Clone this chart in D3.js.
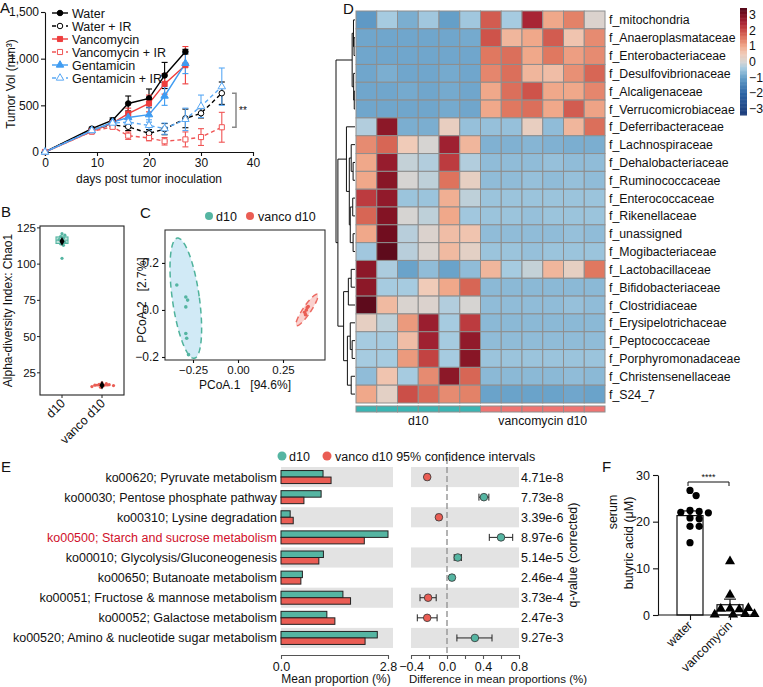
<!DOCTYPE html>
<html><head><meta charset="utf-8">
<script src="https://cdn.jsdelivr.net/npm/d3@7"></script>
<style>
body{margin:0;background:#fff}
text{font-family:"Liberation Sans",Arial,Helvetica,sans-serif;fill:#111}
</style>
</head><body>
<svg id="c" width="763" height="687" xmlns="http://www.w3.org/2000/svg"></svg>
<script>
// ================= DATA =================
// Panel A: tumor growth
const daysShort = [0, 9, 13, 16, 20, 23, 27];
const daysLong = [0, 9, 13, 16, 20, 23, 27, 30, 34];
const waterMean = [0, 250, 340, 520, 575, 820, 1075];
const waterErr = [0, 15, 25, 80, 100, 140, 25];
const waterIRMean = [0, 240, 290, 270, 200, 245, 360, 415, 630];
const waterIRErr = [0, 15, 20, 40, 40, 60, 100, 50, 120];
const vancoMean = [0, 220, 310, 410, 520, 730, 930];
const vancoErr = [0, 15, 20, 60, 90, 110, 200];
const vancoIRMean = [0, 220, 270, 175, 150, 115, 135, 160, 265];
const vancoIRErr = [0, 15, 20, 40, 30, 40, 80, 90, 160];
const gentaMean = [0, 230, 320, 370, 400, 600, 950];
const gentaErr = [0, 15, 20, 40, 80, 100, 110];
const gentaIRMean = [0, 230, 310, 320, 285, 250, 350, 490, 700];
const gentaIRErr = [0, 15, 20, 40, 60, 60, 120, 120, 200];
const seriesNames = ["Water", "Water + IR", "Vancomycin", "Vancomycin + IR", "Gentamicin", "Gentamicin + IR"];
const tumorXTicks = [0, 10, 20, 30, 40];
const tumorYTicks = [0, 500, 1000, 1500];

// Panel B: alpha diversity
const groupsB = ["d10", "vanco d10"];
const chaoD10 = [121, 120, 119, 118, 117, 116, 115, 114, 113, 104];
const chaoVanco = [18, 17.5, 17, 16.8, 16.5, 16.2, 16, 15.5, 15];
const chaoTicks = [25, 50, 75, 100, 125];

// Panel C: PCoA
const pcoaD10X = [-0.34, -0.29, -0.28, -0.29, -0.29, -0.285, -0.275];
const pcoaD10Y = [0.106, 0.055, 0.042, 0.013, -0.10, -0.12, -0.19];
const pcoaVancoX = [0.37, 0.38, 0.385, 0.39, 0.375];
const pcoaVancoY = [-0.01, 0.0, 0.01, 0.015, -0.02];
const pcoaXTicks = [-0.25, 0, 0.25];
const pcoaYTicks = [-0.2, 0, 0.2];

// Panel D: heatmap
const families = ["f_mitochondria","f_Anaeroplasmataceae","f_Enterobacteriaceae","f_Desulfovibrionaceae","f_Alcaligenaceae","f_Verrucomicrobiaceae","f_Deferribacteraceae","f_Lachnospiraceae","f_Dehalobacteriaceae","f_Ruminococcaceae","f_Enterococcaceae","f_Rikenellaceae","f_unassigned","f_Mogibacteriaceae","f_Lactobacillaceae","f_Bifidobacteriaceae","f_Clostridiaceae","f_Erysipelotrichaceae","f_Peptococcaceae","f_Porphyromonadaceae","f_Christensenellaceae","f_S24_7"];
const sampleGroups = ["d10","d10","d10","d10","d10","d10","vancomycin d10","vancomycin d10","vancomycin d10","vancomycin d10","vancomycin d10","vancomycin d10"];
const heatValues = [
 [-1.1,-0.4,-0.8,-0.45,-1.0,-0.45, 1.8,-0.4,2.5,1.0,1.4,0.1],
 [-0.9,-0.9,-0.9,-0.9,-0.9,-0.85, 1.9,0.8,1.0,1.8,0.6,1.3],
 [-0.9,-0.9,-0.9,-0.9,-0.9,-0.9, 1.5,1.6,1.0,1.5,1.1,1.3],
 [-0.9,-0.8,-0.9,-0.9,-0.85,-0.9, 1.35,1.6,0.8,0.7,1.25,1.7],
 [-0.9,-0.9,-0.85,-0.9,-0.85,-0.9, 1.0,1.6,1.9,1.0,1.0,1.35],
 [-0.9,-0.9,-0.9,-0.9,-0.85,-0.9, 1.0,1.5,1.6,1.0,1.8,1.05],
 [-0.3,2.8,-0.8,-0.8,0.35,-0.55,-0.55,-0.55,0.35,-0.6,0.8,1.6],
 [1.3,1.7,0.5,0.0,2.6,0.8,-0.75,-0.75,-0.7,-0.75,-0.8,-0.8],
 [1.0,2.7,-0.15,-0.3,2.2,-0.3,-0.6,-0.6,-0.6,-0.55,-0.6,-0.6],
 [1.0,2.85,0.0,-0.2,1.55,0.3,-0.6,-0.6,-0.55,-0.6,-0.55,-0.6],
 [2.2,2.75,-0.5,-0.5,0.9,-0.2,-0.5,-0.5,-0.5,-0.5,-0.5,-0.5],
 [1.7,2.9,0.0,-0.2,1.0,-0.45,-0.5,-0.5,-0.55,-0.5,-0.5,-0.5],
 [1.0,3.1,-0.25,0.1,0.7,0.6,-0.6,-0.6,-0.6,-0.6,-0.55,-0.6],
 [-0.45,3.3,-0.25,0.05,0.75,0.25,-0.5,-0.5,-0.55,-0.5,-0.5,-0.5],
 [2.8,-0.35,-0.95,-0.6,-0.95,-0.6,0.8,-0.4,-0.15,0.8,0.3,1.5],
 [2.8,-0.4,-0.4,0.5,1.0,1.7,-0.65,-0.65,-0.65,-0.65,-0.65,-0.65],
 [3.3,0.75,0.05,0.1,-0.3,0.0,-0.6,-0.6,-0.6,-0.6,-0.55,-0.6],
 [0.3,-0.2,1.15,2.65,-0.4,2.2,-0.65,-0.65,-0.65,-0.65,-0.65,-0.65],
 [-0.4,-0.4,0.7,2.6,-0.4,2.75,-0.6,-0.6,-0.6,-0.6,-0.6,-0.6],
 [-0.4,-0.4,1.15,2.1,-0.4,2.85,-0.5,-0.5,-0.5,-0.5,-0.5,-0.5],
 [-0.6,0.6,-0.4,1.3,2.8,1.7,-0.65,-0.65,-0.65,-0.65,-0.6,-0.65],
 [1.0,0.25,1.95,1.65,1.3,1.4,-0.95,-0.95,-0.95,-0.95,-0.9,-0.95]
];
// row dendrogram: [height, left, right], leaves = row index
const rowTree = [1.0,
  [0.15, [0.08, 0, [0.05, 1, 2]], [0.07, 3, [0.04, 4, 5]]],
  [0.9,
    [0.45, 6, [0.3, [0.2, 7, [0.1, 8, 9]], [0.25, [0.12, 10, 11], [0.1, 12, 13]]]],
    [0.6, [0.35, [0.2, 14, 15], 16], [0.4, [0.25, 17, [0.15, 18, 19]], [0.2, 20, 21]]]
  ]
];
const colorbarTicks = [3, 2, 1, 0, -1, -2, -3];

// Panel E: KEGG pathways
const koLabels = ["ko00620; Pyruvate metabolism","ko00030; Pentose phosphate pathway","ko00310; Lysine degradation","ko00500; Starch and sucrose metabolism","ko00010; Glycolysis/Gluconeogenesis","ko00650; Butanoate metabolism","ko00051; Fructose & mannose metabolism","ko00052; Galactose metabolism","ko00520; Amino & nucleotide sugar metabolism"];
const meanD10 = [1.10, 1.05, 0.24, 2.80, 1.11, 0.56, 1.62, 1.20, 2.52];
const meanVanco = [1.31, 0.60, 0.32, 2.18, 0.99, 0.52, 1.82, 1.41, 2.20];
const diffMean = [-0.22, 0.41, -0.09, 0.60, 0.12, 0.055, -0.21, -0.22, 0.31];
const diffLow = [-0.24, 0.355, -0.11, 0.47, 0.08, 0.035, -0.30, -0.33, 0.11];
const diffHigh = [-0.20, 0.465, -0.07, 0.73, 0.16, 0.075, -0.12, -0.11, 0.50];
const qValues = ["4.71e-8","7.73e-8","3.39e-6","8.97e-6","5.14e-5","2.46e-4","3.73e-4","2.47e-3","9.27e-3"];
const propTicks = [0, 2.8];
const diffTicks = [-0.4, -0.2, 0, 0.2, 0.4, 0.6, 0.8];

// Panel F: butyric acid
const groupsF = ["water", "vancomycin"];
const butyrateWater = [26.7, 25.6, 22.4, 22.2, 22.0, 21.9, 20.8, 20.6, 19.0, 19.0, 15.5];
const butyrateVanco = [11.5, 4.3, 1.4, 1.2, 1.3, 1.5, 0.2, 0.1, 0.1, 0.2];
const butyrateMean = [21.3, 2.2];
const butyrateSem = [1.0, 1.2];
const butyrateTicks = [0, 10, 20, 30];

// ================= DRAW =================
const svg = d3.select("#c");
const TEAL = "#55b5a2", RED = "#ea5d54";

function styleAxis(g, fs) {
  g.selectAll("path,line").attr("stroke", "#111").attr("stroke-width", 1.1);
  g.selectAll("text").attr("font-size", fs || 12).attr("fill", "#111")
    .style("font-family", '"Liberation Sans",Arial,sans-serif');
}
function letter(t, x, y) {
  svg.append("text").attr("x", x).attr("y", y).attr("font-size", 15).text(t);
}
function swarm(pys, r) {
  const placed = [];
  return pys.map(py => {
    const cands = [0];
    for (let k = 1; k < 40; k++) { cands.push(k * r * 0.9); cands.push(-k * r * 0.9); }
    let off = 0;
    for (const c of cands) {
      if (placed.every(p => Math.hypot(c - p[0], py - p[1]) >= 2 * r * 0.95)) { off = c; break; }
    }
    placed.push([off, py]);
    return off;
  });
}

// ---------- Panel A ----------
letter("A", 0, 13);
const xA = d3.scaleLinear().domain([0, 40]).range([45, 253]);
const yA = d3.scaleLinear().domain([0, 1500]).range([152, 12]);
styleAxis(svg.append("g").attr("transform", "translate(0,152)")
  .call(d3.axisBottom(xA).tickValues(tumorXTicks).tickSize(4).tickPadding(2).tickSizeOuter(0)), 12);
styleAxis(svg.append("g").attr("transform", "translate(45,0)")
  .call(d3.axisLeft(yA).tickValues(tumorYTicks).tickSize(4).tickPadding(2).tickSizeOuter(0)), 12);
svg.append("text").attr("x", 149).attr("y", 183).attr("text-anchor", "middle").attr("font-size", 12)
  .text("days post tumor inoculation");
svg.append("text").attr("transform", "translate(15,84) rotate(-90)").attr("text-anchor", "middle")
  .attr("font-size", 12).text("Tumor Vol (mm³)");

const series = [
  {t: daysShort, m: waterMean, e: waterErr, c: "#000", dash: null, sym: d3.symbolCircle, size: 24, open: false},
  {t: daysLong, m: waterIRMean, e: waterIRErr, c: "#000", dash: "4,3", sym: d3.symbolCircle, size: 24, open: true},
  {t: daysShort, m: vancoMean, e: vancoErr, c: "#ee3d3d", dash: null, sym: d3.symbolSquare, size: 26, open: false},
  {t: daysLong, m: vancoIRMean, e: vancoIRErr, c: "#f05555", dash: "4,3", sym: d3.symbolSquare, size: 26, open: true},
  {t: daysShort, m: gentaMean, e: gentaErr, c: "#3f9cf2", dash: null, sym: d3.symbolTriangle, size: 24, open: false},
  {t: daysLong, m: gentaIRMean, e: gentaIRErr, c: "#5aa9f5", dash: "4,3", sym: d3.symbolTriangle, size: 24, open: true}
];
const gA = svg.append("g");
series.forEach(s => {
  const pts = s.t.map((t, i) => [t, s.m[i], s.e[i]]);
  const eb = gA.append("g").attr("stroke", s.c).attr("stroke-width", 1.1);
  pts.filter(p => p[2] > 0).forEach(p => {
    const x = xA(p[0]);
    eb.append("line").attr("x1", x).attr("x2", x).attr("y1", yA(p[1] - p[2])).attr("y2", yA(p[1] + p[2]));
    eb.append("line").attr("x1", x - 3).attr("x2", x + 3).attr("y1", yA(p[1] + p[2])).attr("y2", yA(p[1] + p[2]));
    eb.append("line").attr("x1", x - 3).attr("x2", x + 3).attr("y1", yA(p[1] - p[2])).attr("y2", yA(p[1] - p[2]));
  });
  gA.append("path").datum(pts).attr("fill", "none").attr("stroke", s.c).attr("stroke-width", 1.4)
    .attr("stroke-dasharray", s.dash).attr("d", d3.line().x(p => xA(p[0])).y(p => yA(p[1])));
});
series.forEach(s => {
  s.t.forEach((t, i) => {
    gA.append("path").attr("d", d3.symbol().type(s.sym).size(s.size)())
      .attr("transform", `translate(${xA(t)},${yA(s.m[i])})`)
      .attr("fill", s.open ? "#fff" : s.c).attr("stroke", s.c).attr("stroke-width", 1);
  });
});
// legend
seriesNames.forEach((n, i) => {
  const s = series[i], y = 13 + i * 13;
  gA.append("line").attr("x1", 52).attr("x2", 68).attr("y1", y).attr("y2", y)
    .attr("stroke", s.c).attr("stroke-width", 1.4).attr("stroke-dasharray", s.dash);
  gA.append("path").attr("d", d3.symbol().type(s.sym).size(s.size)()).attr("transform", `translate(60,${y})`)
    .attr("fill", s.open ? "#fff" : s.c).attr("stroke", s.c).attr("stroke-width", 1);
  gA.append("text").attr("x", 72).attr("y", y + 4.5).attr("font-size", 12.5).text(n);
});
// significance
const bx = 236;
gA.append("path").attr("d", `M${bx - 4},${yA(waterIRMean[8])}H${bx}V${yA(vancoIRMean[8])}H${bx - 4}`)
  .attr("fill", "none").attr("stroke", "#888").attr("stroke-width", 1.5);
gA.append("text").attr("x", 239).attr("y", 114).attr("font-size", 10).text("**");

// ---------- Panel B ----------
letter("B", 1, 217);
const B_TOP = 226, B_BOT = 395;
const xB = d3.scalePoint().domain(groupsB).range([62, 102]);
const yB = d3.scaleLinear().domain([9.7, 126.3]).range([B_BOT, B_TOP]);
const gB = svg.append("g");
gB.append("rect").attr("x", 40).attr("y", B_TOP).attr("width", 84).attr("height", B_BOT - B_TOP)
  .attr("fill", "none").attr("stroke", "#222").attr("stroke-width", 1.1);
chaoTicks.forEach(t => {
  gB.append("line").attr("x1", 37).attr("x2", 40).attr("y1", yB(t)).attr("y2", yB(t)).attr("stroke", "#222");
  gB.append("text").attr("x", 36).attr("y", yB(t) + 4).attr("text-anchor", "end").attr("font-size", 11.5)
    .style("fill", "#111").text(String(t));
});
[[chaoD10, TEAL, "#bfe4dc"], [chaoVanco, RED, "#f6c6c2"]].forEach((d, gi) => {
  const vals = d[0].slice().sort(d3.ascending);
  const q1 = d3.quantile(vals, 0.25), q2 = d3.quantile(vals, 0.5), q3 = d3.quantile(vals, 0.75);
  const iqr = q3 - q1;
  const lo = d3.min(vals.filter(v => v >= q1 - 1.5 * iqr)), hi = d3.max(vals.filter(v => v <= q3 + 1.5 * iqr));
  const cx = xB(groupsB[gi]);
  gB.append("line").attr("x1", cx).attr("x2", cx).attr("y1", yB(lo)).attr("y2", yB(hi)).attr("stroke", d[1]);
  gB.append("rect").attr("x", cx - 6).attr("width", 12).attr("y", yB(q3)).attr("height", yB(q1) - yB(q3))
    .attr("fill", d[2]).attr("stroke", d[1]).attr("stroke-width", 1.1);
  gB.append("line").attr("x1", cx - 6).attr("x2", cx + 6).attr("y1", yB(q2)).attr("y2", yB(q2)).attr("stroke", d[1]);
  const pys = d[0].map(v => yB(v));
  const offs = swarm(pys, 1.6);
  d[0].forEach((v, i) => gB.append("circle").attr("cx", cx + offs[i]).attr("cy", pys[i]).attr("r", 1.6).attr("fill", d[1]));
  gB.append("path").attr("d", d3.symbol().type(d3.symbolDiamond).size(22)())
    .attr("transform", `translate(${cx},${yB(d3.mean(d[0]))})`).attr("fill", "#000");
});
groupsB.forEach(g => {
  gB.append("line").attr("x1", xB(g)).attr("x2", xB(g)).attr("y1", B_BOT).attr("y2", B_BOT + 3).attr("stroke", "#222");
  gB.append("text").attr("transform", `translate(${xB(g) + 4},${B_BOT + 9}) rotate(-45)`).attr("text-anchor", "end")
    .attr("font-size", 12.5).text(g);
});
gB.append("text").attr("transform", `translate(12,${(B_TOP + B_BOT) / 2}) rotate(-90)`).attr("text-anchor", "middle")
  .attr("font-size", 12).text("Alpha-diversity Index: Chao1");

// ---------- Panel C ----------
letter("C", 140, 218);
const C_BOTTOM = 360;
const xC = d3.scaleLinear().domain([-0.4056, 0.4833]).range([165, 325]);
const yC = d3.scaleLinear().domain([-0.2128, 0.340]).range([C_BOTTOM, 230]);
const gC = svg.append("g");
const ell = [
  {cx: -0.29, cy: 0.05, a: 0.258, b: 0.075, ang: -8, fill: "#c9e6f4", stroke: "#4fb39c"},
  {cx: 0.383, cy: 0.0, a: 0.08, b: 0.022, ang: 34, fill: "#f9c9c6", stroke: "#ec6a62"}
];
ell.forEach(e => {
  const cxp = xC(e.cx), cyp = yC(e.cy);
  const ky = yC(0) - yC(1), kx = xC(1) - xC(0);
  const A = e.ang * Math.PI / 180;
  const pts = d3.range(0, 2 * Math.PI + 0.01, Math.PI / 60).map(t => {
    const u = e.b * kx * Math.cos(t), v = e.a * ky * Math.sin(t);
    return [cxp + u * Math.cos(A) + v * Math.sin(A), cyp - (-u * Math.sin(A) + v * Math.cos(A))];
  });
  gC.append("path").attr("d", d3.line()(pts) + "Z").attr("fill", e.fill).attr("fill-opacity", 0.85)
    .attr("stroke", e.stroke).attr("stroke-width", 1.5).attr("stroke-dasharray", "6,4");
});
pcoaD10X.forEach((x, i) => gC.append("circle").attr("cx", xC(x)).attr("cy", yC(pcoaD10Y[i])).attr("r", 1.8).attr("fill", TEAL));
pcoaVancoX.forEach((x, i) => gC.append("circle").attr("cx", xC(x)).attr("cy", yC(pcoaVancoY[i])).attr("r", 1.8).attr("fill", RED));
gC.append("rect").attr("x", 165).attr("y", 230).attr("width", 160).attr("height", C_BOTTOM - 230)
  .attr("fill", "none").attr("stroke", "#333").attr("stroke-width", 1.1);
styleAxis(gC.append("g").attr("transform", "translate(165,0)")
  .call(d3.axisLeft(yC).tickValues(pcoaYTicks).tickFormat(d3.format(".1f")).tickSize(3).tickSizeOuter(0)), 12);
styleAxis(gC.append("g").attr("transform", `translate(0,${C_BOTTOM})`)
  .call(d3.axisBottom(xC).tickValues(pcoaXTicks).tickFormat(d3.format(".2f")).tickSize(3).tickSizeOuter(0)), 11.5);
gC.selectAll("path.domain").remove();
gC.append("text").attr("x", 245).attr("y", 389).attr("text-anchor", "middle").attr("font-size", 12)
  .attr("xml:space", "preserve").text("PCoA.1   [94.6%]");
gC.append("text").attr("transform", "translate(146,300) rotate(-90)").attr("text-anchor", "middle")
  .attr("font-size", 12).attr("xml:space", "preserve").text("PCoA.2   [2.7%]");
gC.append("circle").attr("cx", 209).attr("cy", 216).attr("r", 4).attr("fill", TEAL);
gC.append("text").attr("x", 216).attr("y", 220.5).attr("font-size", 12.5).text("d10");
gC.append("circle").attr("cx", 250).attr("cy", 216).attr("r", 4).attr("fill", RED);
gC.append("text").attr("x", 258).attr("y", 220.5).attr("font-size", 12.5).text("vanco d10");

// ---------- Panel D ----------
letter("D", 343, 14);
const gD = svg.append("g");
const xH = d3.scaleBand().domain(d3.range(sampleGroups.length)).range([356, 605]);
const yH = d3.scaleBand().domain(d3.range(families.length)).range([11, 403]);
const heatColor = d3.scaleLinear()
  .domain([-3.4, -2, -1, -0.4, 0, 0.5, 1, 1.5, 2, 2.5, 3, 3.4])
  .range(["#1b3a78", "#2d65a5", "#659fc8", "#a6cbe0", "#d6d4d2", "#f0cbb8", "#f0a88a", "#e07860", "#c94a45", "#a82535", "#7a0f20", "#55091a"])
  .clamp(true);
heatValues.forEach((row, r) => row.forEach((v, c) => {
  gD.append("rect").attr("x", xH(c)).attr("y", yH(r)).attr("width", xH.bandwidth()).attr("height", yH.bandwidth())
    .attr("fill", heatColor(v)).attr("stroke", "#8e8e8e").attr("stroke-width", 1);
}));
sampleGroups.forEach((g, c) => {
  gD.append("rect").attr("x", xH(c)).attr("y", 406).attr("width", xH.bandwidth()).attr("height", 6)
    .attr("fill", g === "d10" ? "#3bb5b3" : "#ef7472").attr("stroke", "#8e8e8e").attr("stroke-width", 1);
});
families.forEach((f, r) => {
  gD.append("text").attr("x", 609).attr("y", yH(r) + yH.bandwidth() / 2 + 4.5).attr("font-size", 12.3).text(f);
});
const grpNames = Array.from(new Set(sampleGroups));
grpNames.forEach(g => {
  const idx = d3.range(sampleGroups.length).filter(i => sampleGroups[i] === g);
  const cx = (xH(idx[0]) + xH(idx[idx.length - 1]) + xH.bandwidth()) / 2;
  gD.append("text").attr("x", cx).attr("y", 425).attr("text-anchor", "middle").attr("font-size", 12.3).text(g);
});
// dendrogram
const xDen = d3.scaleLinear().domain([0, 1]).range([355, 336]);
function den(node) {
  if (typeof node === "number") return {y: yH(node) + yH.bandwidth() / 2, h: 0};
  const a = den(node[1]), b = den(node[2]);
  const x = xDen(node[0]);
  gD.append("path").attr("d", `M${xDen(a.h)},${a.y}H${x}V${b.y}H${xDen(b.h)}`)
    .attr("fill", "none").attr("stroke", "#111").attr("stroke-width", 1);
  return {y: (a.y + b.y) / 2, h: node[0]};
}
den(rowTree);
// colorbar
const yCB = d3.scaleLinear().domain([-3.4, 3.4]).range([115, 8]);
d3.range(-3.4, 3.4, 0.05).forEach(v => {
  gD.append("rect").attr("x", 740).attr("y", yCB(v + 0.05)).attr("width", 7).attr("height", yCB(v) - yCB(v + 0.05) + 0.5)
    .attr("fill", heatColor(v + 0.025));
});
colorbarTicks.forEach(t => {
  gD.append("text").attr("x", 749).attr("y", yCB(t) + 4.5).attr("font-size", 12.3)
    .text(t < 0 ? "\u2212" + Math.abs(t) : String(t));
});

// ---------- Panel E ----------
letter("E", 1, 472);
const gE = svg.append("g");
const yE = d3.scaleBand().domain(d3.range(koLabels.length)).range([467, 648]);
const xP = d3.scaleLinear().domain([0, 2.8]).range([281, 388]);
const xDf = d3.scaleLinear().domain([-0.4, 0.8]).range([411, 519]);
koLabels.forEach((k, i) => {
  const c = yE(i) + yE.bandwidth() / 2;
  if (i % 2 === 0) {
    gE.append("rect").attr("x", 281).attr("y", yE(i)).attr("width", 112).attr("height", yE.bandwidth()).attr("fill", "#e3e3e3");
    gE.append("rect").attr("x", 411).attr("y", yE(i)).attr("width", 108).attr("height", yE.bandwidth()).attr("fill", "#e3e3e3");
  }
  gE.append("text").attr("x", 277).attr("y", c + 4.5).attr("text-anchor", "end").attr("font-size", 12.5)
    .style("fill", i === 3 ? "#d0112b" : "#111").text(k);
  gE.append("rect").attr("x", xP(0)).attr("y", c - 6.5).attr("width", xP(meanD10[i]) - xP(0)).attr("height", 6.5)
    .attr("fill", TEAL).attr("stroke", "#222").attr("stroke-width", 1);
  gE.append("rect").attr("x", xP(0)).attr("y", c).attr("width", xP(meanVanco[i]) - xP(0)).attr("height", 6.5)
    .attr("fill", RED).attr("stroke", "#222").attr("stroke-width", 1);
  gE.append("text").attr("x", 521).attr("y", c + 4.5).attr("font-size", 12.5).text(qValues[i]);
});
gE.append("line").attr("x1", xDf(0)).attr("x2", xDf(0)).attr("y1", 458).attr("y2", 655)
  .attr("stroke", "#9a9a9a").attr("stroke-width", 1.5).attr("stroke-dasharray", "6,3");
koLabels.forEach((k, i) => {
  const c = yE(i) + yE.bandwidth() / 2;
  gE.append("line").attr("x1", xDf(diffLow[i])).attr("x2", xDf(diffHigh[i])).attr("y1", c).attr("y2", c).attr("stroke", "#222");
  [diffLow[i], diffHigh[i]].forEach(v => gE.append("line").attr("x1", xDf(v)).attr("x2", xDf(v))
    .attr("y1", c - 3.5).attr("y2", c + 3.5).attr("stroke", "#222"));
  gE.append("circle").attr("cx", xDf(diffMean[i])).attr("cy", c).attr("r", 3.8)
    .attr("fill", diffMean[i] > 0 ? TEAL : RED).attr("stroke", "#333").attr("stroke-width", 0.8);
});
const axP = gE.append("g").attr("transform", "translate(0,655)")
  .call(d3.axisBottom(xP).tickValues(propTicks).tickFormat(d3.format(".1f")).tickSize(4).tickSizeOuter(0));
styleAxis(axP, 12.5);
const axD = gE.append("g").attr("transform", "translate(0,655)")
  .call(d3.axisBottom(xDf).tickValues(diffTicks).tickFormat(v => Math.abs(Math.round(v * 10)) % 4 === 0 ? d3.format(".1f")(v) : "").tickSize(4).tickSizeOuter(0));
styleAxis(axD, 12.5);
[axP, axD].forEach(a => a.selectAll("path,line").attr("stroke", "#555"));
gE.append("text").attr("x", 336).attr("y", 683).attr("text-anchor", "middle").attr("font-size", 12).text("Mean proportion (%)");
gE.append("text").attr("x", 498).attr("y", 683).attr("text-anchor", "middle").attr("font-size", 11.5).text("Difference in mean proportions (%)");
gE.append("text").attr("transform", "translate(577,555) rotate(-90)").attr("text-anchor", "middle")
  .attr("font-size", 12.5).text("q-value (corrected)");
gE.append("circle").attr("cx", 282).attr("cy", 456).attr("r", 4.5).attr("fill", TEAL);
gE.append("text").attr("x", 289).attr("y", 460.5).attr("font-size", 12.5).text("d10");
gE.append("circle").attr("cx", 327).attr("cy", 456).attr("r", 4.5).attr("fill", RED);
gE.append("text").attr("x", 335).attr("y", 460.5).attr("font-size", 12.5).text("vanco d10 95% confidence intervals");

// ---------- Panel F ----------
letter("F", 602, 472);
const gF = svg.append("g");
const yF = d3.scaleLinear().domain([0, 30]).range([615, 475]);
const xF = d3.scalePoint().domain(groupsF).range([690, 730]);
[butyrateWater, butyrateVanco].forEach((vals, gi) => {
  const cx = xF(groupsF[gi]);
  gF.append("rect").attr("x", cx - 13).attr("width", 26).attr("y", yF(butyrateMean[gi]))
    .attr("height", yF(0) - yF(butyrateMean[gi])).attr("fill", "#fff").attr("stroke", "#111").attr("stroke-width", 1.2);
  const t = yF(butyrateMean[gi] + butyrateSem[gi]), b = yF(butyrateMean[gi] - butyrateSem[gi]);
  gF.append("line").attr("x1", cx).attr("x2", cx).attr("y1", t).attr("y2", b).attr("stroke", "#111").attr("stroke-width", 1.2);
  gF.append("line").attr("x1", cx - 6).attr("x2", cx + 6).attr("y1", t).attr("y2", t).attr("stroke", "#111").attr("stroke-width", 1.2);
  const pys = vals.map(v => yF(v));
  const offs = swarm(pys, 3.4);
  vals.forEach((v, i) => {
    if (gi === 0) gF.append("circle").attr("cx", cx + offs[i]).attr("cy", pys[i]).attr("r", 3.6).attr("fill", "#000");
    else gF.append("path").attr("d", d3.symbol().type(d3.symbolTriangle).size(44)())
      .attr("transform", `translate(${cx + offs[i]},${pys[i]})`).attr("fill", "#000");
  });
});
styleAxis(gF.append("g").attr("transform", "translate(658,0)")
  .call(d3.axisLeft(yF).tickValues(butyrateTicks).tickSize(5).tickSizeOuter(0)), 12.5);
const axF = gF.append("g").attr("transform", "translate(0,615)")
  .call(d3.axisBottom(xF).tickSize(5).tickSizeOuter(0).tickFormat(""));
styleAxis(axF);
axF.select("path.domain").attr("d", "M658,0H757");
groupsF.forEach(g => gF.append("text").attr("transform", `translate(${xF(g) + 3},${626}) rotate(-45)`)
  .attr("text-anchor", "end").attr("font-size", 12.5).text(g));
gF.append("path").attr("d", `M688,${yF(28.5) + 4}V${yF(28.5)}H729V${yF(28.5) + 4}`).attr("fill", "none")
  .attr("stroke", "#111").attr("stroke-width", 1);
gF.append("text").attr("x", 708.5).attr("y", 480).attr("text-anchor", "middle").attr("font-size", 9).text("****");
gF.append("text").attr("transform", "translate(617,512) rotate(-90)").attr("text-anchor", "middle").attr("font-size", 12.5).text("serum");
gF.append("text").attr("transform", "translate(633,543) rotate(-90)").attr("text-anchor", "middle").attr("font-size", 12.5).text("butyric acid (\u03bcM)");
</script>
</body></html>
